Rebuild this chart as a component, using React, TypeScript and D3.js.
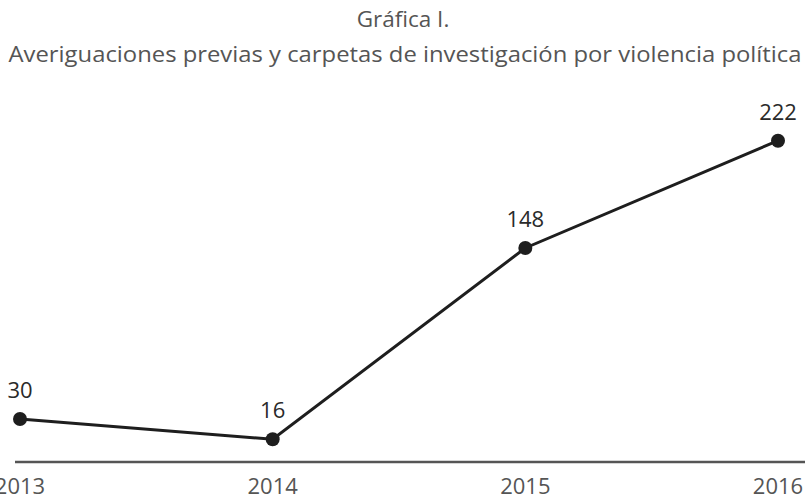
import React from "react";
import * as d3 from "d3";

const years = ["2013", "2014", "2015", "2016"];
const values = [30, 16, 148, 222];
const titleLines = [
  "Gráfica I.",
  "Averiguaciones previas y carpetas de investigación por violencia política",
];

const W = 805;
const H = 499;
const FONT = "'Open Sans', 'Noto Sans', sans-serif";

export default function App() {
  const x = d3.scalePoint<string>().domain(years).range([20, 778]);
  const y = d3.scaleLinear().domain([0, 222]).range([462.5, 140.7]);
  const line = d3
    .line<number>()
    .x((_, i) => x(years[i]) as number)
    .y((d) => y(d));

  return (
    <svg
      width={W}
      height={H}
      style={{ position: "absolute", left: 0, top: 0, background: "#fff" }}
    >
      <text
        x={403}
        y={26.5}
        textAnchor="middle"
        fontFamily={FONT}
        fontSize={22.5}
        fill="#555"
      >
        {titleLines[0]}
      </text>
      <text
        x={405}
        y={61.5}
        textAnchor="middle"
        fontFamily={FONT}
        fontSize={22.5}
        fill="#555"
        textLength={793}
        lengthAdjust="spacingAndGlyphs"
      >
        {titleLines[1]}
      </text>

      <line x1={15} x2={W} y1={462} y2={462} stroke="#555" strokeWidth={2.5} />

      {years.map((yr) => (
        <text
          key={yr}
          x={x(yr)}
          y={494}
          textAnchor="middle"
          fontFamily={FONT}
          fontSize={22}
          fill="#555"
        >
          {yr}
        </text>
      ))}

      <path d={line(values) || ""} fill="none" stroke="#1e1e1e" strokeWidth={3} />

      {values.map((v, i) => (
        <g key={i}>
          <circle cx={x(years[i])} cy={y(v)} r={7} fill="#1e1e1e" />
          <text
            x={x(years[i])}
            y={y(v) - 21}
            textAnchor="middle"
            fontFamily={FONT}
            fontSize={22}
            fill="#2a2a2a"
          >
            {v}
          </text>
        </g>
      ))}
    </svg>
  );
}
